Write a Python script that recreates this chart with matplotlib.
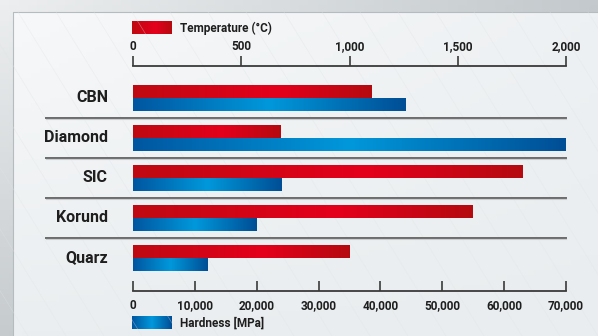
import numpy as np
import matplotlib
matplotlib.use('Agg')
import matplotlib.pyplot as plt
from matplotlib.colors import LinearSegmentedColormap, to_rgb
from matplotlib.ticker import FuncFormatter

# data
categories = ['CBN', 'Diamond', 'SIC', 'Korund', 'Quarz']
temperature = [1100, 680, 1800, 1570, 1000]      # °C, top axis
hardness = [44000, 70000, 24000, 20000, 12000]   # MPa, bottom axis
temp_ticks = [0, 500, 1000, 1500, 2000]
hard_ticks = [0, 10000, 20000, 30000, 40000, 50000, 60000, 70000]

FONT = ['Liberation Sans Narrow', 'Roboto', 'DejaVu Sans']
plt.rcParams['font.family'] = FONT
plt.rcParams['font.weight'] = 'bold'

red_cm = LinearSegmentedColormap.from_list('r', [(0, '#bf0a12'), (0.6, '#e4001b'), (1, '#b50a10')])
blue_cm = LinearSegmentedColormap.from_list('b', [(0, '#0056a0'), (0.5, '#0098db'), (1, '#004e95')])
grad = np.linspace(0, 1, 256).reshape(1, -1)

W, H = 598, 336
fig = plt.figure(figsize=(W / 100, H / 100), dpi=100)


def px(x0, y0, w, h):
    return [x0 / W, 1 - (y0 + h) / H, w / W, h / H]


def corners(tl, tr, bl, br, n=64):
    tl, tr, bl, br = [np.array(to_rgb(c)) for c in (tl, tr, bl, br)]
    u = np.linspace(0, 1, n)[None, :, None]
    v = np.linspace(0, 1, n)[:, None, None]
    top = tl * (1 - u) + tr * u
    bot = bl * (1 - u) + br * u
    return top * (1 - v) + bot * v


# background
bg = fig.add_axes([0, 0, 1, 1], zorder=-5)
bg.axis('off')
bg.imshow(corners('#eceeef', '#c3c9cc', '#c6cbce', '#bfc5c8'), extent=[0, W, H, 0], aspect='auto')
bg.imshow(corners('#f7f8f9', '#eef1f3', '#eaeef0', '#e9edef'), extent=[13, W, H, 12], aspect='auto')
bg.plot([13, 13, W], [H, 12, 12], color='#b5bcc0', lw=0.8)
for s in range(-400, 700, 38):
    bg.plot([s, s + 200], [12, H], color='#dfe4e7', lw=0.5, alpha=0.4)

# legend patches
bg.imshow(grad, cmap=red_cm, extent=[132, 172, 34, 21], aspect='auto')
bg.imshow(grad, cmap=blue_cm, extent=[132, 172, 329, 316], aspect='auto')
bg.set_xlim(0, W)
bg.set_ylim(H, 0)
fig.text(180 / W, 1 - 28 / H, 'Temperature (°C)', fontsize=8.5, fontweight='bold',
         color='#1e1e1e', va='center', ha='left')
fig.text(180 / W, 1 - 323 / H, 'Hardness [MPa]', fontsize=8.5, fontweight='bold',
         color='#1e1e1e', va='center', ha='left')

# main axes: hardness (bottom), temperature (top)
ax = fig.add_axes(px(133, 66, 433, 225))
ax.patch.set_alpha(0)
ax2 = ax.twiny()

pos = np.arange(len(categories))
bh = 0.33
blue_bars = ax.barh(pos + bh / 2, hardness, height=bh, facecolor='none', edgecolor='none')
red_bars = ax2.barh(pos - bh / 2, temperature, height=bh, facecolor='none', edgecolor='none')

for a, bars, cm in ((ax, blue_bars, blue_cm), (ax2, red_bars, red_cm)):
    for b in bars:
        x0, y0 = b.get_x(), b.get_y()
        im = a.imshow(grad, cmap=cm, extent=[x0, x0 + b.get_width(), y0 + b.get_height(), y0],
                      aspect='auto', zorder=2)
        im.set_clip_path(b)

ylim = (4.825, -0.8)
ax.set_xlim(0, 70000)
ax2.set_xlim(0, 2000)
ax.set_ylim(*ylim)
ax2.set_ylim(*ylim)

# separators
for y in pos[:-1] + 0.5:
    ax.plot([-0.201, 1.0], [y, y], transform=ax.get_yaxis_transform(), color='#6a6a6a',
            lw=1.4, clip_on=False, zorder=1)
    ax.plot([-0.201, 1.0], [y + 0.035, y + 0.035], transform=ax.get_yaxis_transform(),
            color='#c9cdd0', lw=0.8, clip_on=False, zorder=1)

# category labels
for p, c in zip(pos, categories):
    ax.text(-0.058, p, c, transform=ax.get_yaxis_transform(), ha='right', va='center',
            fontsize=11.5, fontweight='bold', color='#1e1e1e')

fmt = FuncFormatter(lambda v, _: f'{int(v):,}')
ax.set_yticks([])
ax2.set_yticks([])
for s in ('top', 'left', 'right'):
    ax.spines[s].set_visible(False)
for s in ('bottom', 'left', 'right'):
    ax2.spines[s].set_visible(False)
ax.spines['bottom'].set_color('#3a3a3a')
ax.spines['bottom'].set_linewidth(1.3)
ax2.spines['top'].set_color('#3a3a3a')
ax2.spines['top'].set_linewidth(1.3)

ax.set_xticks(hard_ticks)
ax.xaxis.set_major_formatter(fmt)
ax.tick_params(axis='x', direction='in', length=7.5, width=1.2, color='#3a3a3a',
               labelsize=8.5, labelcolor='#1e1e1e', pad=6)
ax2.set_xticks(temp_ticks)
ax2.xaxis.set_major_formatter(fmt)
ax2.tick_params(axis='x', direction='out', length=7, width=1.2, color='#3a3a3a',
                labelsize=8.5, labelcolor='#1e1e1e', pad=2)
for t in ax.get_xticklabels() + ax2.get_xticklabels():
    t.set_fontweight('bold')

fig.savefig('out.png', dpi=100)
